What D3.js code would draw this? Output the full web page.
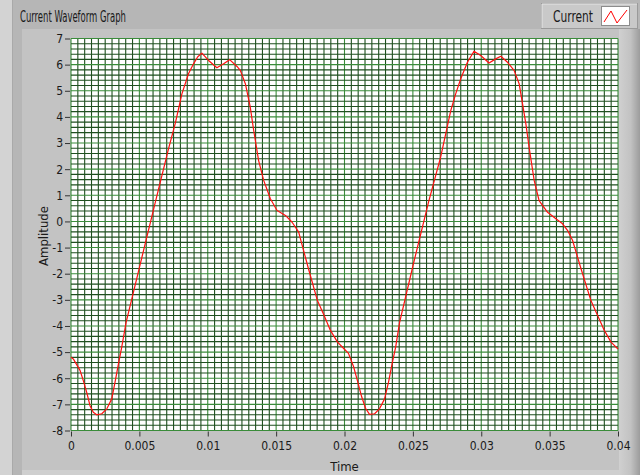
<!DOCTYPE html>
<html>
<head>
<meta charset="utf-8">
<script src="https://cdn.jsdelivr.net/npm/d3@7"></script>
<style>
  html, body { margin: 0; padding: 0; background: #d3d3d3; }
  svg { display: block; }
  text { font-family: "DejaVu Sans Condensed", "DejaVu Sans", sans-serif; fill: #1a1a1a; }
</style>
</head>
<body>
<svg id="chart" width="640" height="475"></svg>
<script>
// ---- data ----
const title = "Current Waveform Graph";
const seriesName = "Current";
const xLabel = "Time";
const yLabel = "Amplitude";

const times = [
  0, 0.00017, 0.00066, 0.00090, 0.00115, 0.00139, 0.00163, 0.00188, 0.00225, 0.00262,
  0.00298, 0.00322, 0.00347, 0.00371, 0.00403, 0.00505, 0.00615, 0.00713, 0.00762, 0.00811,
  0.00859, 0.00896, 0.00927, 0.00957, 0.01006, 0.01067, 0.01116, 0.01160, 0.01214, 0.01238,
  0.01275, 0.01311, 0.01336, 0.01372, 0.01409, 0.01458, 0.01507, 0.01568, 0.01617, 0.01665,
  0.01678, 0.01736, 0.01802, 0.01851, 0.01897, 0.01949, 0.01998, 0.02029, 0.02066, 0.02095,
  0.02125, 0.02154, 0.02183, 0.02220, 0.02256, 0.02293, 0.02322, 0.02348, 0.02374, 0.02403,
  0.02505, 0.02615, 0.02703, 0.02740, 0.02777, 0.02813, 0.02850, 0.02899, 0.02947, 0.02996,
  0.03057, 0.03106, 0.03143, 0.03192, 0.03240, 0.03277, 0.03302, 0.03326, 0.03350, 0.03387,
  0.03423, 0.03485, 0.03546, 0.03595, 0.03632, 0.03668, 0.03729, 0.03802, 0.03851, 0.03900,
  0.03949, 0.04
];
const current = [
  -5.20, -5.26, -5.70, -6.09, -6.54, -7.05, -7.30, -7.40, -7.36, -7.17,
  -6.79, -6.15, -5.45, -4.81, -3.86, -1.66, 0.70, 2.78, 3.74, 4.88,
  5.65, 6.03, 6.30, 6.44, 6.16, 5.88, 6.03, 6.19, 5.93, 5.78,
  5.27, 4.37, 3.48, 2.33, 1.57, 0.87, 0.42, 0.23, -0.03, -0.41,
  -0.67, -1.80, -3.03, -3.60, -4.17, -4.62, -4.88, -5.05, -5.55, -6.10,
  -6.70, -7.15, -7.38, -7.36, -7.17, -6.79, -6.15, -5.45, -4.81, -3.86,
  -1.60, 0.75, 2.46, 3.35, 4.24, 4.88, 5.46, 6.09, 6.51, 6.35,
  6.06, 6.22, 6.32, 6.09, 5.78, 5.27, 4.50, 3.74, 2.84, 1.57,
  0.80, 0.35, 0.10, -0.09, -0.35, -0.73, -1.80, -3.03, -3.60, -4.17,
  -4.62, -4.88
];
const xTicks = [0, 0.005, 0.01, 0.015, 0.02, 0.025, 0.03, 0.035, 0.04];
const xTickLabels = ["0", "0.005", "0.01", "0.015", "0.02", "0.025", "0.03", "0.035", "0.04"];
const yTicks = [7, 6, 5, 4, 3, 2, 1, 0, -1, -2, -3, -4, -5, -6, -7, -8];
const yTickLabels = ["7", "6", "5", "4", "3", "2", "1", "0", "-1", "-2", "-3", "-4", "-5", "-6", "-7", "-8"];

// ---- drawing ----
const svg = d3.select("#chart");
const W = 640, H = 475;
const plot = { left: 71, right: 618, top: 38.5, bottom: 430.5 };

const x = d3.scaleLinear().domain([0, 0.04]).range([plot.left, plot.right]);
const y = d3.scaleLinear().domain([-8, 7]).range([plot.bottom, plot.top]);

const defs = svg.append("defs");
const rg = defs.append("linearGradient").attr("id", "rightStrip").attr("x1", 0).attr("x2", 1).attr("y1", 0).attr("y2", 0);
rg.append("stop").attr("offset", "0%").attr("stop-color", "#d0d0d0");
rg.append("stop").attr("offset", "55%").attr("stop-color", "#c2c2c2");
rg.append("stop").attr("offset", "100%").attr("stop-color", "#9c9c9c");

// background panels
svg.append("rect").attr("x", 0).attr("y", 0).attr("width", W).attr("height", H).attr("fill", "#d3d3d3");
svg.append("rect").attr("x", 12).attr("y", 0).attr("width", W - 12).attr("height", H).attr("fill", "#b6b6b6");
svg.append("line").attr("x1", 12.5).attr("x2", 12.5).attr("y1", 0).attr("y2", H).attr("stroke", "#a9a9a9");
svg.append("rect").attr("x", 22).attr("y", 29).attr("width", 597).attr("height", 441).attr("fill", "#c3c3c3");
svg.append("rect").attr("x", 22).attr("y", 470).attr("width", 597).attr("height", 5).attr("fill", "#cfcfcf");
svg.append("rect").attr("x", 619).attr("y", 29).attr("width", 21).attr("height", H - 29).attr("fill", "url(#rightStrip)");

// title
svg.append("text").attr("x", 20).attr("y", 22).attr("font-size", 15.5)
  .attr("textLength", 106).attr("lengthAdjust", "spacingAndGlyphs").text(title);

// legend
const lg = svg.append("g");
lg.append("rect").attr("x", 541.5).attr("y", 3.5).attr("width", 96).attr("height", 25)
  .attr("fill", "#c9c9c9").attr("stroke", "#9a9a9a");
lg.append("path").attr("d", "M542,28 V4 H637").attr("fill", "none").attr("stroke", "#e6e6e6");
lg.append("text").attr("x", 553).attr("y", 21.5).attr("font-size", 15)
  .attr("textLength", 40).attr("lengthAdjust", "spacingAndGlyphs").text(seriesName);
lg.append("rect").attr("x", 601.5).attr("y", 6.5).attr("width", 28).attr("height", 19)
  .attr("fill", "#ffffff").attr("stroke", "#8c8c8c");
lg.append("polyline").attr("points", "604,22 611,11 617,23 627,10")
  .attr("fill", "none").attr("stroke", "#ff0000").attr("stroke-width", 1);

// plot area
svg.append("rect").attr("x", plot.left).attr("y", plot.top).attr("width", plot.right - plot.left)
  .attr("height", plot.bottom - plot.top).attr("fill", "#ffffff");

const grid = svg.append("g");
const isMajorX = v => Math.abs(v / 0.005 - Math.round(v / 0.005)) < 1e-6;
const isMajorY = v => Math.abs(v - Math.round(v)) < 1e-6;
grid.selectAll("line.vx").data(x.ticks(80)).join("line")
  .attr("x1", d => x(d)).attr("x2", d => x(d)).attr("y1", plot.top).attr("y2", plot.bottom)
  .attr("stroke", d => isMajorX(d) ? "#3a8c3a" : "#1f4f1f").attr("stroke-width", 1.1);
grid.selectAll("line.hy").data(y.ticks(75)).join("line")
  .attr("x1", plot.left).attr("x2", plot.right).attr("y1", d => y(d)).attr("y2", d => y(d))
  .attr("stroke", d => isMajorY(d) ? "#3a8c3a" : "#1f4f1f").attr("stroke-width", 1.1);

// series
const line = d3.line().x((d, i) => x(times[i])).y(d => y(d)).curve(d3.curveLinear);
svg.append("path").datum(current).attr("d", line)
  .attr("fill", "none").attr("stroke", "#ff1010").attr("stroke-width", 1.2).attr("stroke-linejoin", "round");

// axes
const yAxis = d3.axisLeft(y).tickValues(yTicks).tickSize(5).tickPadding(2)
  .tickFormat((d, i) => yTickLabels[i]);
const gy = svg.append("g").attr("transform", `translate(${plot.left - 1},0)`).call(yAxis);
gy.select(".domain").remove();
gy.selectAll(".tick line").attr("stroke", "#333");
gy.selectAll(".tick text").attr("font-size", 12).attr("fill", "#1a1a1a")
  .style("font-family", '"DejaVu Sans Condensed", "DejaVu Sans", sans-serif');

const xAxis = d3.axisBottom(x).tickValues(xTicks).tickSize(5).tickPadding(5)
  .tickFormat((d, i) => xTickLabels[i]);
const gx = svg.append("g").attr("transform", `translate(0,${plot.bottom + 1})`).call(xAxis);
gx.select(".domain").remove();
gx.selectAll(".tick line").attr("stroke", "#333");
gx.selectAll(".tick text").attr("font-size", 12).attr("fill", "#1a1a1a")
  .style("font-family", '"DejaVu Sans Condensed", "DejaVu Sans", sans-serif');

svg.append("text").attr("x", (plot.left + plot.right) / 2).attr("y", 471).attr("font-size", 13)
  .attr("text-anchor", "middle").text(xLabel);
svg.append("text").attr("transform", `translate(48,236) rotate(-90)`).attr("font-size", 13)
  .attr("text-anchor", "middle").text(yLabel);
</script>
</body>
</html>
